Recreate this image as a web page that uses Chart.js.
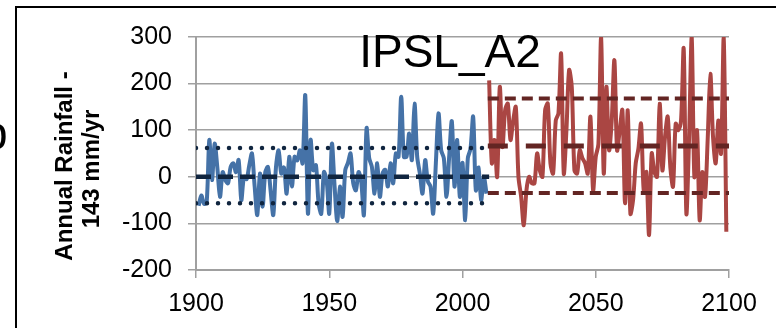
<!DOCTYPE html>
<html lang="en">
<head>
<meta charset="UTF-8">
<title>IPSL_A2 - Annual Rainfall</title>
<script src="https://cdn.jsdelivr.net/npm/chart.js"></script>
<style>
    body {
        margin: 0;
        background: #ffffff;
    }
    .chart-box {
        position: relative;
        width: 776px;
        height: 328px;
    }
</style>
</head>
<body>
<div class="chart-box">
    <canvas id="rainChart"></canvas>
</div>
<script>
    const xTicks = [1900, 1950, 2000, 2050, 2100];
    const yTicks = [-200, -100, 0, 100, 200, 300];

    // observed / baseline run, one value per year from 1901
    const histStart = 1901;
    const histValues = [
        -62, -40, -58, -55, 79, -7, 71, 20, -43, 10,
        -7, -14, 21, 29, 10, 36, -50, 0, -5, 25,
        50, -20, -82, 7, -64, 10, 21, -30, -82, 20,
        57, 7, 20, -36, 43, -21, 43, 35, 57, 29,
        175, -79, 79, 14, 25, -57, -79, 10, -7, -79,
        71, -20, -95, -21, -86, 14, 30, 50, -14, -29,
        10, -10, -82, 104, 40, 21, -36, 29, -43, 7,
        15, -21, 29, -14, 50, 43, 172, 43, 43, 93,
        36, 157, 43, 7, -36, 36, -10, -21, -79, 29,
        136, 57, 40, -43, 43, 119, -21, 79, -43, 30,
        -93, 40, 60, 129, -29, 20, -50, 0, -36
    ];

    // A2 projection, one value per year from 2010
    const futStart = 2010;
    const futValues = [
        207, 29, 79, 0, 193, 64, 143, 157, 79, 120,
        150, 0, -43, -104, -29, 0, -14, -14, 50, 14,
        0, 143, 157, 29, 7, 121, 136, 264, 7, 100,
        229, 193, 14, 7, 57, 40, 29, 7, 129, -29,
        43, 70, 300, 7, 193, 57, 121, 250, 57, 100,
        143, -57, 143, -79, -50, 29, 60, 114, -29, 10,
        -125, 50, 10, 0, 157, 14, 86, 129, 20, -21,
        114, 100, 120, 275, -79, 79, 300, 0, 100, -93,
        10, -43, 80, 221, 86, 29, 121, 50, 300, -118
    ];

    // mean and +/- 1 std lines
    const histSpan = [1900, 2010];
    const histMean = 0;
    const histBand = [62, -57];
    const futSpan = [2009.5, 2100];
    const futMean = 66;
    const futBand = [168, -35];

    const toPoints = (start, values) => values.map((v, i) => ({ x: start + i, y: v }));
    const flat = (span, v) => [{ x: span[0], y: v }, { x: span[1], y: v }];

    const blue = '#4572a7';
    const navy = '#10253f';
    const red = '#aa4643';
    const darkRed = '#632523';
    const gridGray = '#a0a0a0';
    const fontFamily = '"Liberation Sans", Arial, sans-serif';

    const refLine = (data, color, dash, width, cap) => ({
        data: data,
        borderColor: color,
        borderWidth: width,
        borderDash: dash,
        borderCapStyle: cap || 'butt',
        pointRadius: 0,
        tension: 0,
        order: 0
    });

    const decorations = {
        id: 'decorations',
        afterDraw(chart) {
            const ctx = chart.ctx;
            ctx.save();
            // outer frame
            ctx.strokeStyle = '#000000';
            ctx.lineWidth = 2;
            ctx.beginPath();
            ctx.moveTo(16, 328);
            ctx.lineTo(16, 7);
            ctx.lineTo(776, 7);
            ctx.stroke();

            // cut-off panel letter on the far left
            ctx.fillStyle = '#000000';
            ctx.font = '46px ' + fontFamily;
            ctx.textAlign = 'left';
            ctx.textBaseline = 'alphabetic';
            ctx.fillText('b', -18, 149);

            // chart title inside the plot
            ctx.font = '46px ' + fontFamily;
            ctx.textAlign = 'center';
            ctx.fillText('IPSL_A2', 450, 67);

            // y axis title, two lines
            ctx.font = 'bold 24px ' + fontFamily;
            ctx.textBaseline = 'middle';
            ctx.translate(65, 166);
            ctx.rotate(-Math.PI / 2);
            ctx.fillText('Annual Rainfall -', 0, 0);
            ctx.fillText('143 mm/yr', -3, 27);
            ctx.restore();
        }
    };

    const ctx = document.getElementById('rainChart').getContext('2d');
    new Chart(ctx, {
        type: 'line',
        data: {
            datasets: [
                refLine(flat(histSpan, histBand[0]), navy, [0, 11], 4.5, 'round'),
                refLine(flat(histSpan, histBand[1]), navy, [0, 11], 4.5, 'round'),
                refLine(flat(histSpan, histMean), navy, [15, 7], 4.5),
                refLine(flat(futSpan, futBand[0]), darkRed, [11, 6], 4),
                refLine(flat(futSpan, futBand[1]), darkRed, [11, 6], 4),
                refLine(flat(futSpan, futMean), darkRed, [20, 18], 5),
                {
                    data: toPoints(histStart, histValues),
                    borderColor: blue,
                    borderWidth: 4,
                    pointRadius: 0,
                    tension: 0.3,
                    order: 1
                },
                {
                    data: toPoints(futStart, futValues),
                    borderColor: red,
                    borderWidth: 4,
                    pointRadius: 0,
                    tension: 0.3,
                    order: 1
                }
            ]
        },
        options: {
            responsive: true,
            maintainAspectRatio: false,
            animation: false,
            layout: {
                padding: { left: 0, right: 47, top: 37, bottom: 0 }
            },
            plugins: {
                legend: { display: false },
                tooltip: { enabled: false }
            },
            scales: {
                x: {
                    type: 'linear',
                    min: xTicks[0],
                    max: xTicks[xTicks.length - 1],
                    afterBuildTicks: (scale) => { scale.ticks = xTicks.map(v => ({ value: v })); },
                    afterFit: (scale) => { scale.height = 58; },
                    grid: {
                        drawOnChartArea: false,
                        drawTicks: true,
                        tickLength: 8,
                        color: gridGray,
                        lineWidth: 1.5
                    },
                    border: { display: true, color: gridGray, width: 2 },
                    ticks: {
                        color: '#000000',
                        padding: 11,
                        maxRotation: 0,
                        callback: (v) => String(v),
                        font: { family: fontFamily, size: 25 }
                    }
                },
                y: {
                    min: yTicks[0],
                    max: yTicks[yTicks.length - 1],
                    afterBuildTicks: (scale) => { scale.ticks = yTicks.map(v => ({ value: v })); },
                    afterFit: (scale) => { scale.width = 196; },
                    grid: {
                        drawTicks: true,
                        tickLength: 8,
                        color: gridGray,
                        lineWidth: 1.5
                    },
                    border: { display: true, color: gridGray, width: 2 },
                    ticks: {
                        color: '#000000',
                        padding: 16,
                        callback: (v) => String(v),
                        font: { family: fontFamily, size: 25 }
                    }
                }
            }
        },
        plugins: [decorations]
    });
</script>
</body>
</html>
